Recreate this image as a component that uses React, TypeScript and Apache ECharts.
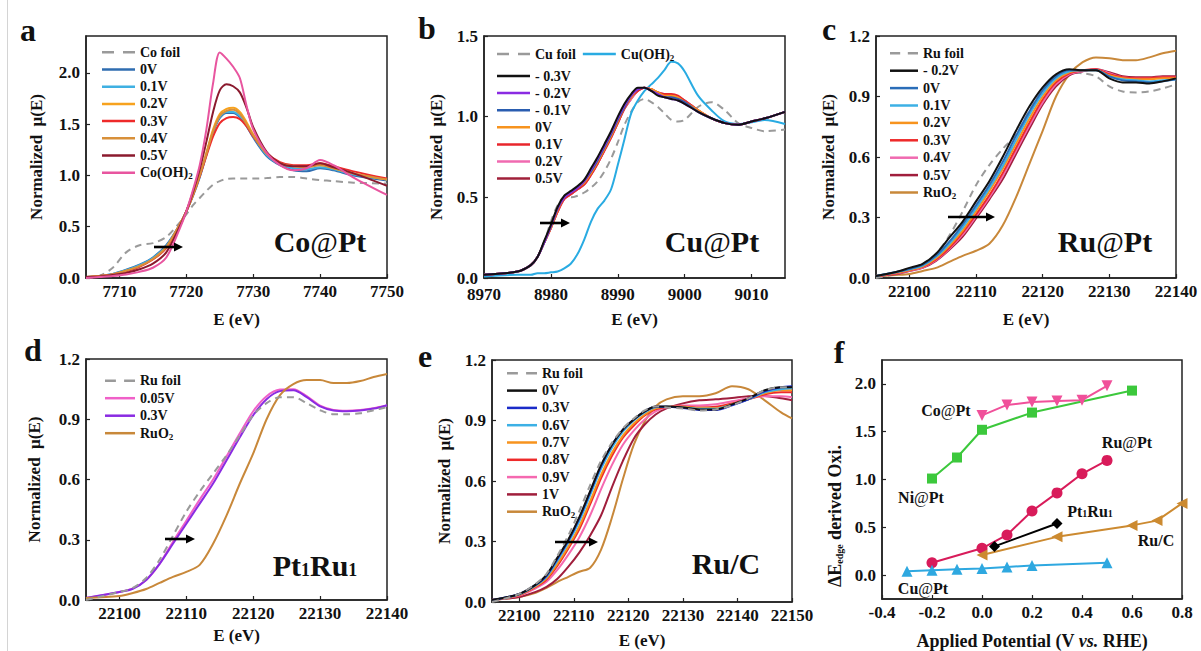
import React, { useEffect, useRef } from 'react';
import * as echarts from 'echarts';

const FONT = "'Liberation Serif', 'Times New Roman', serif";

// ---------- Panel a : Co@Pt ----------
const aE = [7705, 7707, 7709, 7711, 7713, 7715, 7717, 7719, 7720, 7721, 7722, 7723, 7724, 7725, 7726, 7727, 7728, 7729, 7730, 7732, 7734, 7736, 7738, 7740, 7742, 7745, 7750];
const aCoFoil = [0.0, 0.02, 0.1, 0.25, 0.32, 0.34, 0.4, 0.54, 0.62, 0.71, 0.78, 0.85, 0.91, 0.945, 0.965, 0.97, 0.97, 0.97, 0.97, 0.975, 0.985, 0.985, 0.97, 0.955, 0.945, 0.93, 0.92];
const a0V = [0.01, 0.02, 0.04, 0.08, 0.13, 0.2, 0.32, 0.52, 0.65, 0.8, 0.98, 1.2, 1.42, 1.56, 1.61, 1.61, 1.57, 1.48, 1.37, 1.19, 1.1, 1.05, 1.04, 1.07, 1.05, 1.0, 0.95];
const a01V = [0.01, 0.02, 0.04, 0.075, 0.125, 0.195, 0.31, 0.52, 0.65, 0.81, 0.99, 1.21, 1.43, 1.57, 1.62, 1.62, 1.58, 1.49, 1.38, 1.2, 1.11, 1.07, 1.06, 1.08, 1.06, 1.01, 0.96];
const a02V = [0.01, 0.02, 0.035, 0.07, 0.115, 0.185, 0.3, 0.52, 0.65, 0.81, 1.0, 1.22, 1.45, 1.6, 1.65, 1.66, 1.62, 1.52, 1.4, 1.22, 1.12, 1.09, 1.09, 1.11, 1.07, 1.02, 0.96];
const a03V = [0.01, 0.02, 0.035, 0.065, 0.11, 0.18, 0.29, 0.52, 0.65, 0.81, 0.99, 1.19, 1.38, 1.51, 1.56, 1.57, 1.55, 1.48, 1.38, 1.22, 1.13, 1.1, 1.1, 1.12, 1.09, 1.04, 0.97];
const a04V = [0.01, 0.02, 0.035, 0.07, 0.115, 0.185, 0.3, 0.52, 0.65, 0.81, 1.0, 1.21, 1.43, 1.58, 1.63, 1.64, 1.6, 1.5, 1.39, 1.21, 1.12, 1.09, 1.08, 1.1, 1.07, 1.02, 0.96];
const a05V = [0.01, 0.015, 0.03, 0.05, 0.085, 0.14, 0.25, 0.5, 0.65, 0.84, 1.06, 1.33, 1.62, 1.83, 1.89, 1.87, 1.81, 1.66, 1.47, 1.23, 1.12, 1.09, 1.09, 1.12, 1.08, 1.02, 0.9];
const aCoOH2 = [0.0, 0.01, 0.02, 0.035, 0.06, 0.1, 0.2, 0.48, 0.65, 0.86, 1.1, 1.45, 1.9, 2.2, 2.14, 2.06, 1.95, 1.68, 1.45, 1.22, 1.1, 1.05, 1.07, 1.15, 1.1, 0.98, 0.81];

// ---------- Panel b : Cu@Pt ----------
const bE = [8970, 8975, 8977, 8978, 8979, 8980, 8981, 8982, 8983, 8984, 8985, 8986, 8987, 8988, 8989, 8990, 8991, 8992, 8993, 8994, 8995, 8996, 8997, 8998, 8999, 9000, 9002, 9004, 9006, 9008, 9010, 9012, 9015];
const bCuFoil = [0.02, 0.04, 0.08, 0.13, 0.22, 0.35, 0.45, 0.5, 0.5, 0.51, 0.53, 0.56, 0.6, 0.66, 0.74, 0.84, 0.95, 1.03, 1.09, 1.11, 1.09, 1.06, 1.02, 0.98, 0.97, 0.98, 1.06, 1.09, 1.04, 0.96, 0.93, 0.91, 0.92];
const bCuOH2 = [0.01, 0.02, 0.02, 0.03, 0.03, 0.035, 0.04, 0.06, 0.09, 0.15, 0.24, 0.35, 0.43, 0.48, 0.55, 0.7, 0.86, 1.02, 1.1, 1.16, 1.2, 1.24, 1.29, 1.34, 1.33, 1.28, 1.13, 1.04, 0.97, 0.955, 0.965, 0.98, 0.955];
const bM03V = [0.02, 0.04, 0.08, 0.13, 0.23, 0.33, 0.44, 0.51, 0.54, 0.57, 0.61, 0.68, 0.75, 0.83, 0.91, 1.0, 1.08, 1.14, 1.18, 1.18, 1.16, 1.13, 1.12, 1.11, 1.1, 1.08, 1.03, 0.99, 0.96, 0.95, 0.97, 0.99, 1.03];
const bM02V = [0.02, 0.04, 0.08, 0.13, 0.22, 0.32, 0.43, 0.5, 0.53, 0.56, 0.6, 0.67, 0.74, 0.82, 0.9, 0.99, 1.07, 1.13, 1.17, 1.18, 1.16, 1.14, 1.12, 1.11, 1.1, 1.08, 1.03, 0.99, 0.96, 0.95, 0.97, 0.99, 1.03];
const bM01V = [0.02, 0.04, 0.08, 0.13, 0.22, 0.32, 0.43, 0.5, 0.53, 0.56, 0.6, 0.66, 0.73, 0.81, 0.89, 0.98, 1.06, 1.13, 1.17, 1.18, 1.16, 1.14, 1.12, 1.12, 1.11, 1.09, 1.03, 0.99, 0.96, 0.95, 0.97, 0.99, 1.03];
const b0V = [0.02, 0.04, 0.08, 0.13, 0.22, 0.31, 0.42, 0.5, 0.53, 0.56, 0.59, 0.65, 0.72, 0.8, 0.88, 0.97, 1.06, 1.12, 1.17, 1.18, 1.17, 1.15, 1.13, 1.13, 1.12, 1.09, 1.04, 0.99, 0.96, 0.95, 0.97, 0.99, 1.03];
const b01V = [0.02, 0.04, 0.08, 0.13, 0.22, 0.31, 0.41, 0.49, 0.52, 0.55, 0.58, 0.64, 0.71, 0.79, 0.87, 0.96, 1.05, 1.12, 1.16, 1.18, 1.17, 1.15, 1.14, 1.14, 1.13, 1.1, 1.04, 0.99, 0.96, 0.95, 0.97, 0.99, 1.03];
const b02V = [0.02, 0.04, 0.08, 0.13, 0.22, 0.31, 0.41, 0.49, 0.52, 0.55, 0.58, 0.64, 0.71, 0.79, 0.87, 0.96, 1.05, 1.11, 1.16, 1.18, 1.17, 1.15, 1.14, 1.13, 1.12, 1.1, 1.04, 0.99, 0.96, 0.95, 0.97, 0.99, 1.03];
const b05V = [0.02, 0.04, 0.08, 0.13, 0.22, 0.31, 0.41, 0.49, 0.52, 0.55, 0.58, 0.64, 0.71, 0.79, 0.87, 0.96, 1.05, 1.11, 1.16, 1.18, 1.17, 1.15, 1.14, 1.13, 1.12, 1.1, 1.04, 0.99, 0.96, 0.95, 0.97, 0.99, 1.03];

// ---------- Panel c : Ru@Pt ----------
const cE = [22095, 22098, 22100, 22102, 22104, 22106, 22108, 22110, 22112, 22114, 22116, 22118, 22120, 22122, 22124, 22126, 22128, 22130, 22132, 22134, 22136, 22138, 22140];
const cRuFoil = [0.0, 0.02, 0.04, 0.07, 0.12, 0.21, 0.33, 0.46, 0.56, 0.64, 0.71, 0.83, 0.93, 0.995, 1.02, 1.015, 1.0, 0.95, 0.925, 0.92, 0.925, 0.94, 0.96];
const cM02V = [0.01, 0.03, 0.05, 0.07, 0.12, 0.2, 0.28, 0.38, 0.48, 0.6, 0.73, 0.85, 0.945, 1.01, 1.035, 1.03, 1.03, 0.99, 0.97, 0.97, 0.965, 0.975, 0.99];
const c0V = [0.01, 0.03, 0.045, 0.065, 0.11, 0.18, 0.265, 0.36, 0.46, 0.575, 0.705, 0.825, 0.93, 1.0, 1.03, 1.03, 1.03, 1.0, 0.98, 0.975, 0.97, 0.975, 0.985];
const c01V = [0.01, 0.028, 0.043, 0.062, 0.105, 0.17, 0.25, 0.345, 0.445, 0.555, 0.685, 0.81, 0.915, 0.99, 1.025, 1.03, 1.03, 1.0, 0.985, 0.98, 0.975, 0.98, 0.985];
const c02V = [0.01, 0.026, 0.04, 0.058, 0.098, 0.16, 0.235, 0.33, 0.43, 0.54, 0.665, 0.79, 0.9, 0.98, 1.02, 1.03, 1.03, 1.005, 0.99, 0.985, 0.985, 0.99, 0.99];
const c03V = [0.01, 0.024, 0.038, 0.055, 0.092, 0.15, 0.225, 0.315, 0.41, 0.52, 0.645, 0.77, 0.885, 0.97, 1.015, 1.03, 1.035, 1.01, 0.995, 0.99, 0.99, 0.995, 0.995];
const c04V = [0.01, 0.022, 0.036, 0.052, 0.088, 0.145, 0.215, 0.305, 0.4, 0.505, 0.63, 0.755, 0.87, 0.96, 1.01, 1.025, 1.035, 1.015, 0.995, 0.99, 0.99, 0.995, 0.995];
const c05V = [0.01, 0.02, 0.034, 0.05, 0.085, 0.14, 0.205, 0.295, 0.39, 0.49, 0.615, 0.74, 0.86, 0.95, 1.005, 1.025, 1.035, 1.02, 1.0, 0.995, 0.995, 1.0, 1.0];
const cRuO2 = [0.01, 0.015, 0.02, 0.035, 0.05, 0.08, 0.11, 0.135, 0.17, 0.26, 0.4, 0.565, 0.73, 0.9, 1.01, 1.07, 1.094, 1.09, 1.08, 1.08, 1.094, 1.114, 1.127];

// ---------- Panel d : Pt1Ru1 ----------
const dE = [22095, 22100, 22102, 22104, 22106, 22108, 22110, 22112, 22114, 22116, 22118, 22120, 22122, 22124, 22126, 22128, 22130, 22132, 22134, 22136, 22138, 22140];
const dRuFoil = [0.0, 0.04, 0.06, 0.11, 0.2, 0.32, 0.44, 0.54, 0.63, 0.72, 0.82, 0.92, 0.98, 1.01, 1.01, 0.98, 0.945, 0.925, 0.925, 0.93, 0.945, 0.96];
const d005V = [0.01, 0.04, 0.058, 0.1, 0.18, 0.29, 0.395, 0.5, 0.6, 0.715, 0.83, 0.94, 1.015, 1.048, 1.05, 1.015, 0.968, 0.946, 0.942, 0.946, 0.955, 0.968];
const d03V = [0.01, 0.04, 0.056, 0.1, 0.18, 0.28, 0.38, 0.48, 0.58, 0.695, 0.81, 0.92, 1.0, 1.04, 1.044, 1.01, 0.964, 0.944, 0.94, 0.944, 0.953, 0.97];
const dRuO2 = [0.01, 0.02, 0.035, 0.055, 0.085, 0.115, 0.14, 0.175, 0.28, 0.42, 0.58, 0.73, 0.9, 1.02, 1.075, 1.095, 1.095, 1.08, 1.08, 1.09, 1.11, 1.125];

// ---------- Panel e : Ru/C ----------
const eE = [22095, 22100, 22103, 22105, 22107, 22109, 22111, 22113, 22115, 22117, 22119, 22121, 22123, 22125, 22127, 22130, 22133, 22136, 22139, 22142, 22145, 22148, 22150];
const eRuFoil = [0.0, 0.04, 0.09, 0.14, 0.23, 0.33, 0.45, 0.58, 0.7, 0.79, 0.86, 0.91, 0.95, 0.97, 0.965, 0.96, 0.95, 0.955, 0.975, 1.01, 1.05, 1.065, 1.065];
const e0V = [0.01, 0.04, 0.086, 0.135, 0.22, 0.31, 0.42, 0.55, 0.68, 0.78, 0.855, 0.905, 0.945, 0.97, 0.97, 0.965, 0.955, 0.955, 0.98, 1.01, 1.05, 1.065, 1.065];
const e03V = [0.01, 0.04, 0.085, 0.13, 0.215, 0.305, 0.415, 0.545, 0.675, 0.78, 0.855, 0.905, 0.945, 0.968, 0.968, 0.962, 0.952, 0.952, 0.975, 1.005, 1.045, 1.065, 1.07];
const e06V = [0.01, 0.038, 0.082, 0.125, 0.205, 0.295, 0.4, 0.53, 0.66, 0.765, 0.845, 0.9, 0.94, 0.965, 0.968, 0.965, 0.958, 0.958, 0.978, 1.005, 1.04, 1.055, 1.06];
const e07V = [0.01, 0.036, 0.078, 0.118, 0.19, 0.275, 0.375, 0.5, 0.63, 0.74, 0.825, 0.885, 0.93, 0.96, 0.968, 0.968, 0.962, 0.962, 0.98, 1.005, 1.035, 1.05, 1.05];
const e08V = [0.01, 0.035, 0.075, 0.112, 0.18, 0.265, 0.36, 0.485, 0.615, 0.725, 0.815, 0.875, 0.925, 0.955, 0.967, 0.97, 0.965, 0.968, 0.985, 1.005, 1.03, 1.04, 1.04];
const e09V = [0.01, 0.032, 0.068, 0.1, 0.16, 0.235, 0.32, 0.43, 0.56, 0.68, 0.78, 0.85, 0.905, 0.945, 0.965, 0.975, 0.975, 0.98, 0.995, 1.01, 1.02, 1.02, 1.015];
const e1V = [0.01, 0.025, 0.05, 0.075, 0.115, 0.175, 0.245, 0.33, 0.43, 0.57, 0.7, 0.81, 0.88, 0.93, 0.96, 0.985, 1.0, 1.005, 1.012, 1.02, 1.022, 1.01, 1.0];
const eRuO2 = [0.01, 0.025, 0.045, 0.07, 0.1, 0.125, 0.15, 0.17, 0.26, 0.42, 0.61, 0.78, 0.895, 0.97, 1.005, 1.02, 1.02, 1.035, 1.07, 1.055, 1.0, 0.94, 0.91];

// ---------- Panel f : ΔE_edge vs potential ----------
const fCoPtX = [0, 0.1, 0.2, 0.3, 0.4, 0.5];
const fCoPtY = [1.67, 1.78, 1.81, 1.82, 1.83, 1.98];
const fNiPtX = [-0.2, -0.1, 0, 0.2, 0.6];
const fNiPtY = [1.01, 1.23, 1.52, 1.7, 1.93];
const fRuPtX = [-0.2, 0, 0.1, 0.2, 0.3, 0.4, 0.5];
const fRuPtY = [0.13, 0.28, 0.42, 0.67, 0.86, 1.06, 1.2];
const fPtRuX = [0.05, 0.3];
const fPtRuY = [0.3, 0.54];
const fRuCX = [0, 0.3, 0.6, 0.7, 0.8];
const fRuCY = [0.21, 0.4, 0.52, 0.57, 0.75];
const fCuPtX = [-0.3, -0.2, -0.1, 0, 0.1, 0.2, 0.5];
const fCuPtY = [0.04, 0.05, 0.06, 0.07, 0.085, 0.1, 0.13];

// tick values
const aXTicks = [7710, 7720, 7730, 7740, 7750];
const bXTicks = [8970, 8980, 8990, 9000, 9010];
const ruXTicks = [22100, 22110, 22120, 22130, 22140];
const eXTicks = [22100, 22110, 22120, 22130, 22140, 22150];
const fXTicks = [-0.4, -0.2, 0, 0.2, 0.4, 0.6, 0.8];
const aYTicks = [0, 0.5, 1.0, 1.5, 2.0];
const bYTicks = [0, 0.5, 1.0, 1.5];
const ruYTicks = [0, 0.3, 0.6, 0.9, 1.2];
const fYTicks = [0, 0.5, 1.0, 1.5, 2.0];

const GRAY = '#9a9a9a';
const DASH = [7, 5];
const DASH_ICON = 'path://M0,0H12V2H0Z M21,0H33V2H21Z';

function zip(xs: number[], ys: number[]) {
  return xs.map((x, i) => [x, ys[i]]);
}

function spec(label: string, panel: string, gi: number, xs: number[], ys: number[], color: string, dashed = false, z = 2) {
  return {
    type: 'line',
    name: label + '#' + panel,
    xAxisIndex: gi,
    yAxisIndex: gi,
    data: zip(xs, ys),
    symbol: 'none',
    showSymbol: false,
    smooth: 0.3,
    z,
    itemStyle: { color: dashed ? GRAY : color },
    lineStyle: { color: dashed ? GRAY : color, width: 2, type: dashed ? DASH : 'solid' },
    emphasis: { disabled: true },
  };
}

function markerSeries(name: string, xs: number[], ys: number[], color: string, symbol: string, rotate = 0, size = 10) {
  return {
    type: 'line',
    name,
    xAxisIndex: 5,
    yAxisIndex: 5,
    data: zip(xs, ys),
    symbol,
    symbolRotate: rotate,
    symbolSize: size,
    showSymbol: true,
    itemStyle: { color },
    lineStyle: { color, width: 2 },
    emphasis: { disabled: true },
  };
}

const legendFormatter = (n: string) => {
  const t = n.split('#')[0];
  return t.replace(/\)2$/, '){s|2}').replace(/O2$/, 'O{s|2}');
};

function legend(labels: string[], panel: string, left: number, top: number, itemWidth: number, itemGap: number, orient = 'vertical') {
  return {
    show: true,
    orient,
    left,
    top,
    itemWidth,
    itemHeight: 2.5,
    itemGap,
    padding: 0,
    selectedMode: false,
    symbolKeepAspect: false,
    data: labels.map((l) => ({
      name: l + '#' + panel,
      icon: l.indexOf('foil') >= 0 ? DASH_ICON : 'rect',
    })),
    formatter: legendFormatter,
    textStyle: {
      fontFamily: FONT,
      fontWeight: 'bold',
      fontSize: 14,
      color: '#111',
      lineHeight: 16,
      rich: {
        s: { fontFamily: FONT, fontWeight: 'bold', fontSize: 9, lineHeight: 10, verticalAlign: 'bottom', color: '#111' },
      },
    },
  };
}

const labelStyle = { fontFamily: FONT, fontWeight: 'bold', fontSize: 17, color: '#111' };

function xAxisDef(gi: number, min: number, max: number, ticks: number[], name: string, nameGap: number, fmt: (v: number) => string, nameRich?: any, margin = 6) {
  return {
    type: 'value',
    gridIndex: gi,
    min,
    max,
    name,
    nameLocation: 'middle',
    nameGap,
    nameTextStyle: { ...labelStyle, fontSize: nameRich ? 18 : 17, rich: nameRich },
    axisLine: { show: true, onZero: false, lineStyle: { color: '#222', width: 1.5 } },
    axisTick: { show: true, inside: true, length: 4, customValues: ticks, lineStyle: { color: '#222', width: 1.2 } },
    axisLabel: { ...labelStyle, lineHeight: 15, customValues: ticks, margin, formatter: fmt },
    splitLine: { show: false },
  };
}

function yAxisDef(gi: number, min: number, max: number, ticks: number[], name: string, nameGap: number) {
  return {
    type: 'value',
    gridIndex: gi,
    min,
    max,
    name,
    nameLocation: 'middle',
    nameGap,
    nameTextStyle: { ...labelStyle },
    axisLine: { show: true, onZero: false, lineStyle: { color: '#222', width: 1.5 } },
    axisTick: { show: true, inside: true, length: 4, customValues: ticks, lineStyle: { color: '#222', width: 1.2 } },
    axisLabel: { ...labelStyle, lineHeight: 15, customValues: ticks, margin: 6, formatter: (v: number) => v.toFixed(1) },
    splitLine: { show: false },
  };
}

function arrow(x1: number, x2: number, y: number) {
  return {
    type: 'group',
    children: [
      { type: 'line', shape: { x1, y1: y, x2: x2 - 7, y2: y }, style: { stroke: '#000', lineWidth: 2.6 }, z: 100 },
      { type: 'polygon', shape: { points: [[x2, y], [x2 - 9, y - 4.5], [x2 - 9, y + 4.5]] }, style: { fill: '#000' }, z: 100 },
    ],
  };
}

function bigText(text: string, x: number, y: number, size: number, rich?: any) {
  return {
    type: 'text',
    x,
    y,
    z: 100,
    style: {
      text,
      fontFamily: FONT,
      fontWeight: 'bold',
      fontSize: size,
      fill: '#111',
      align: 'center',
      verticalAlign: 'middle',
      rich,
    },
  };
}

const atRich = (size: number) => ({ at: { fontFamily: FONT, fontWeight: 'normal', fontSize: size, fill: '#111', color: '#111' } });

function buildOption() {
  const grids = [
    { left: 86, top: 36, width: 301, height: 242 },
    { left: 484, top: 36, width: 301, height: 242 },
    { left: 876, top: 36, width: 300, height: 242 },
    { left: 86, top: 359, width: 301, height: 241 },
    { left: 492, top: 360, width: 300, height: 242 },
    { left: 882, top: 360, width: 300, height: 242 },
  ].map((g) => ({ ...g, show: true, borderColor: '#222', borderWidth: 1.5, backgroundColor: 'transparent', containLabel: false }));

  const str = (v: number) => String(v);
  const normName = 'Normalized  \u03bc(E)';

  const xAxis = [
    xAxisDef(0, 7705, 7750, aXTicks, 'E (eV)', 33, str),
    xAxisDef(1, 8970, 9015, bXTicks, 'E (eV)', 33, str, undefined, 9),
    xAxisDef(2, 22095, 22140, ruXTicks, 'E (eV)', 33, str),
    xAxisDef(3, 22095, 22140, ruXTicks, 'E (eV)', 27, str),
    xAxisDef(4, 22095, 22150, eXTicks, 'E (eV)', 30, str),
    xAxisDef(5, -0.4, 0.8, fXTicks, 'Applied Potential (V {i|vs.} RHE)', 33, (v: number) => v.toFixed(1), {
      i: { fontFamily: FONT, fontWeight: 'bold', fontStyle: 'italic', fontSize: 18, color: '#111' },
    }),
  ];
  const yAxis = [
    yAxisDef(0, 0, 2.36, aYTicks, normName, 41),
    yAxisDef(1, 0, 1.5, bYTicks, normName, 39),
    yAxisDef(2, 0, 1.2, ruYTicks, normName, 39),
    yAxisDef(3, 0, 1.2, ruYTicks, normName, 43),
    yAxisDef(4, 0, 1.2, ruYTicks, normName, 39),
    yAxisDef(5, -0.25, 2.25, fYTicks, '', 40),
  ];

  const series: any[] = [
    // a
    spec('Co foil', 'a', 0, aE, aCoFoil, GRAY, true),
    spec('0V', 'a', 0, aE, a0V, '#2f6db0'),
    spec('0.1V', 'a', 0, aE, a01V, '#3fb0e2'),
    spec('0.2V', 'a', 0, aE, a02V, '#f7a21e'),
    spec('0.3V', 'a', 0, aE, a03V, '#ee2a2a'),
    spec('0.4V', 'a', 0, aE, a04V, '#d8903a'),
    spec('0.5V', 'a', 0, aE, a05V, '#8b1a2e'),
    spec('Co(OH)2', 'a', 0, aE, aCoOH2, '#e8559f'),
    // b
    spec('Cu foil', 'b', 1, bE, bCuFoil, GRAY, true),
    spec('Cu(OH)2', 'b', 1, bE, bCuOH2, '#29abe2'),
    spec('0.5V', 'b', 1, bE, b05V, '#a0203a'),
    spec('0.2V', 'b', 1, bE, b02V, '#f06ab0'),
    spec('0.1V', 'b', 1, bE, b01V, '#e8262c'),
    spec('0V', 'b', 1, bE, b0V, '#f7931e'),
    spec('- 0.1V', 'b', 1, bE, bM01V, '#2a5db0'),
    spec('- 0.2V', 'b', 1, bE, bM02V, '#8a2be2'),
    spec('- 0.3V', 'b', 1, bE, bM03V, '#111111'),
    // c
    spec('Ru foil', 'c', 2, cE, cRuFoil, GRAY, true),
    spec('RuO2', 'c', 2, cE, cRuO2, '#c8883a'),
    spec('0.5V', 'c', 2, cE, c05V, '#a01e3c'),
    spec('0.4V', 'c', 2, cE, c04V, '#f06ab0'),
    spec('0.3V', 'c', 2, cE, c03V, '#ee2a2a'),
    spec('0.2V', 'c', 2, cE, c02V, '#f7931e'),
    spec('0.1V', 'c', 2, cE, c01V, '#3cb0e5'),
    spec('0V', 'c', 2, cE, c0V, '#2a6db8'),
    spec('- 0.2V', 'c', 2, cE, cM02V, '#111111'),
    // d
    spec('Ru foil', 'd', 3, dE, dRuFoil, GRAY, true, 3),
    spec('0.05V', 'd', 3, dE, d005V, '#f060c8'),
    spec('0.3V', 'd', 3, dE, d03V, '#8a2be2'),
    spec('RuO2', 'd', 3, dE, dRuO2, '#c8883a'),
    // e
    spec('Ru foil', 'e', 4, eE, eRuFoil, GRAY, true, 3),
    spec('RuO2', 'e', 4, eE, eRuO2, '#c8883a'),
    spec('1V', 'e', 4, eE, e1V, '#a01e3c'),
    spec('0.9V', 'e', 4, eE, e09V, '#f569b0'),
    spec('0.8V', 'e', 4, eE, e08V, '#ee2a2a'),
    spec('0.7V', 'e', 4, eE, e07V, '#f7931e'),
    spec('0.6V', 'e', 4, eE, e06V, '#3cb0e5'),
    spec('0.3V', 'e', 4, eE, e03V, '#1a2bc8'),
    spec('0V', 'e', 4, eE, e0V, '#111111'),
    // f
    markerSeries('Co@Pt', fCoPtX, fCoPtY, '#f0509a', 'triangle', 180, 11),
    markerSeries('Ni@Pt', fNiPtX, fNiPtY, '#3cc83c', 'rect', 0, 10),
    markerSeries('Ru@Pt', fRuPtX, fRuPtY, '#d81b5a', 'circle', 0, 11),
    markerSeries('Pt1Ru1', fPtRuX, fPtRuY, '#000000', 'diamond', 0, 11),
    markerSeries('Ru/C', fRuCX, fRuCY, '#cc8a30', 'triangle', 90, 11),
    markerSeries('Cu@Pt', fCuPtX, fCuPtY, '#2ea8e0', 'triangle', 0, 11),
  ];

  const legends = [
    legend(['Co foil', '0V', '0.1V', '0.2V', '0.3V', '0.4V', '0.5V', 'Co(OH)2'], 'a', 102, 44.3, 33, 1.2),
    legend(['Cu foil', 'Cu(OH)2'], 'b', 497, 46, 33, 7, 'horizontal'),
    legend(['- 0.3V', '- 0.2V', '- 0.1V', '0V', '0.1V', '0.2V', '0.5V'], 'b', 497, 68, 33, 1.1),
    legend(['Ru foil', '- 0.2V', '0V', '0.1V', '0.2V', '0.3V', '0.4V', '0.5V', 'RuO2'], 'c', 890, 45.3, 28, 1.4),
    legend(['Ru foil', '0.05V', '0.3V', 'RuO2'], 'd', 105, 372.7, 30, 1.5),
    legend(['Ru foil', '0V', '0.3V', '0.6V', '0.7V', '0.8V', '0.9V', '1V', 'RuO2'], 'e', 507, 365.3, 30, 1.3),
  ];

  const subRich = (size: number) => ({
    n: { fontFamily: FONT, fontWeight: 'bold', fontSize: size, fill: '#111', color: '#111', padding: [size * 0.55, 0, 0, 0] },
  });

  const graphic = [
    { type: 'line', shape: { x1: 7.5, y1: 0, x2: 7.5, y2: 651 }, style: { stroke: '#d4d4d4', lineWidth: 1 } },
    // panel letters
    bigText('a', 28, 30, 32),
    bigText('b', 427, 28, 32),
    bigText('c', 829, 29, 32),
    bigText('d', 33, 350, 32),
    bigText('e', 425, 356, 32),
    bigText('f', 839, 352, 32),
    // panel titles
    bigText('Co{at|@}Pt', 320, 241, 30, atRich(30)),
    bigText('Cu{at|@}Pt', 712, 241, 30, atRich(30)),
    bigText('Ru{at|@}Pt', 1105, 241, 30, atRich(30)),
    bigText('Pt{n|1}Ru{n|1}', 315, 565, 30, subRich(18)),
    bigText('Ru/C', 726, 563, 30),
    // arrows
    arrow(154, 183, 247),
    arrow(540, 570, 223),
    arrow(948, 995, 217),
    arrow(165, 195, 539),
    arrow(555, 598, 542),
    // panel f labels
    bigText('Co{at|@}Pt', 946, 410, 16, atRich(16)),
    bigText('Ni{at|@}Pt', 921, 497, 16, atRich(16)),
    bigText('Ru{at|@}Pt', 1127, 442, 16, atRich(16)),
    bigText('Pt{n|1}Ru{n|1}', 1090, 511, 16, subRich(10)),
    bigText('Ru/C', 1156, 540, 16),
    bigText('Cu{at|@}Pt', 923, 588, 16, atRich(16)),
    // panel f y axis name
    {
      type: 'text',
      x: 835,
      y: 516,
      rotation: Math.PI / 2,
      z: 100,
      style: {
        text: '\u0394E{s|edge} derived Oxi.',
        fontFamily: FONT,
        fontWeight: 'bold',
        fontSize: 18,
        fill: '#111',
        align: 'center',
        verticalAlign: 'middle',
        rich: { s: { fontFamily: FONT, fontWeight: 'bold', fontSize: 10, fill: '#111', padding: [9, 0, 0, 0] } },
      },
    },
  ];

  return {
    animation: false,
    backgroundColor: '#ffffff',
    textStyle: { fontFamily: FONT },
    grid: grids,
    xAxis,
    yAxis,
    legend: legends,
    series,
    graphic,
  };
}

export default function App() {
  const ref = useRef<HTMLDivElement>(null);
  useEffect(() => {
    if (!ref.current) return;
    const chart = echarts.init(ref.current, null, { renderer: 'svg' });
    chart.setOption(buildOption() as any);
    return () => chart.dispose();
  }, []);
  return <div ref={ref} style={{ position: 'absolute', left: 0, top: 0, width: 1201, height: 651, background: '#fff' }} />;
}
